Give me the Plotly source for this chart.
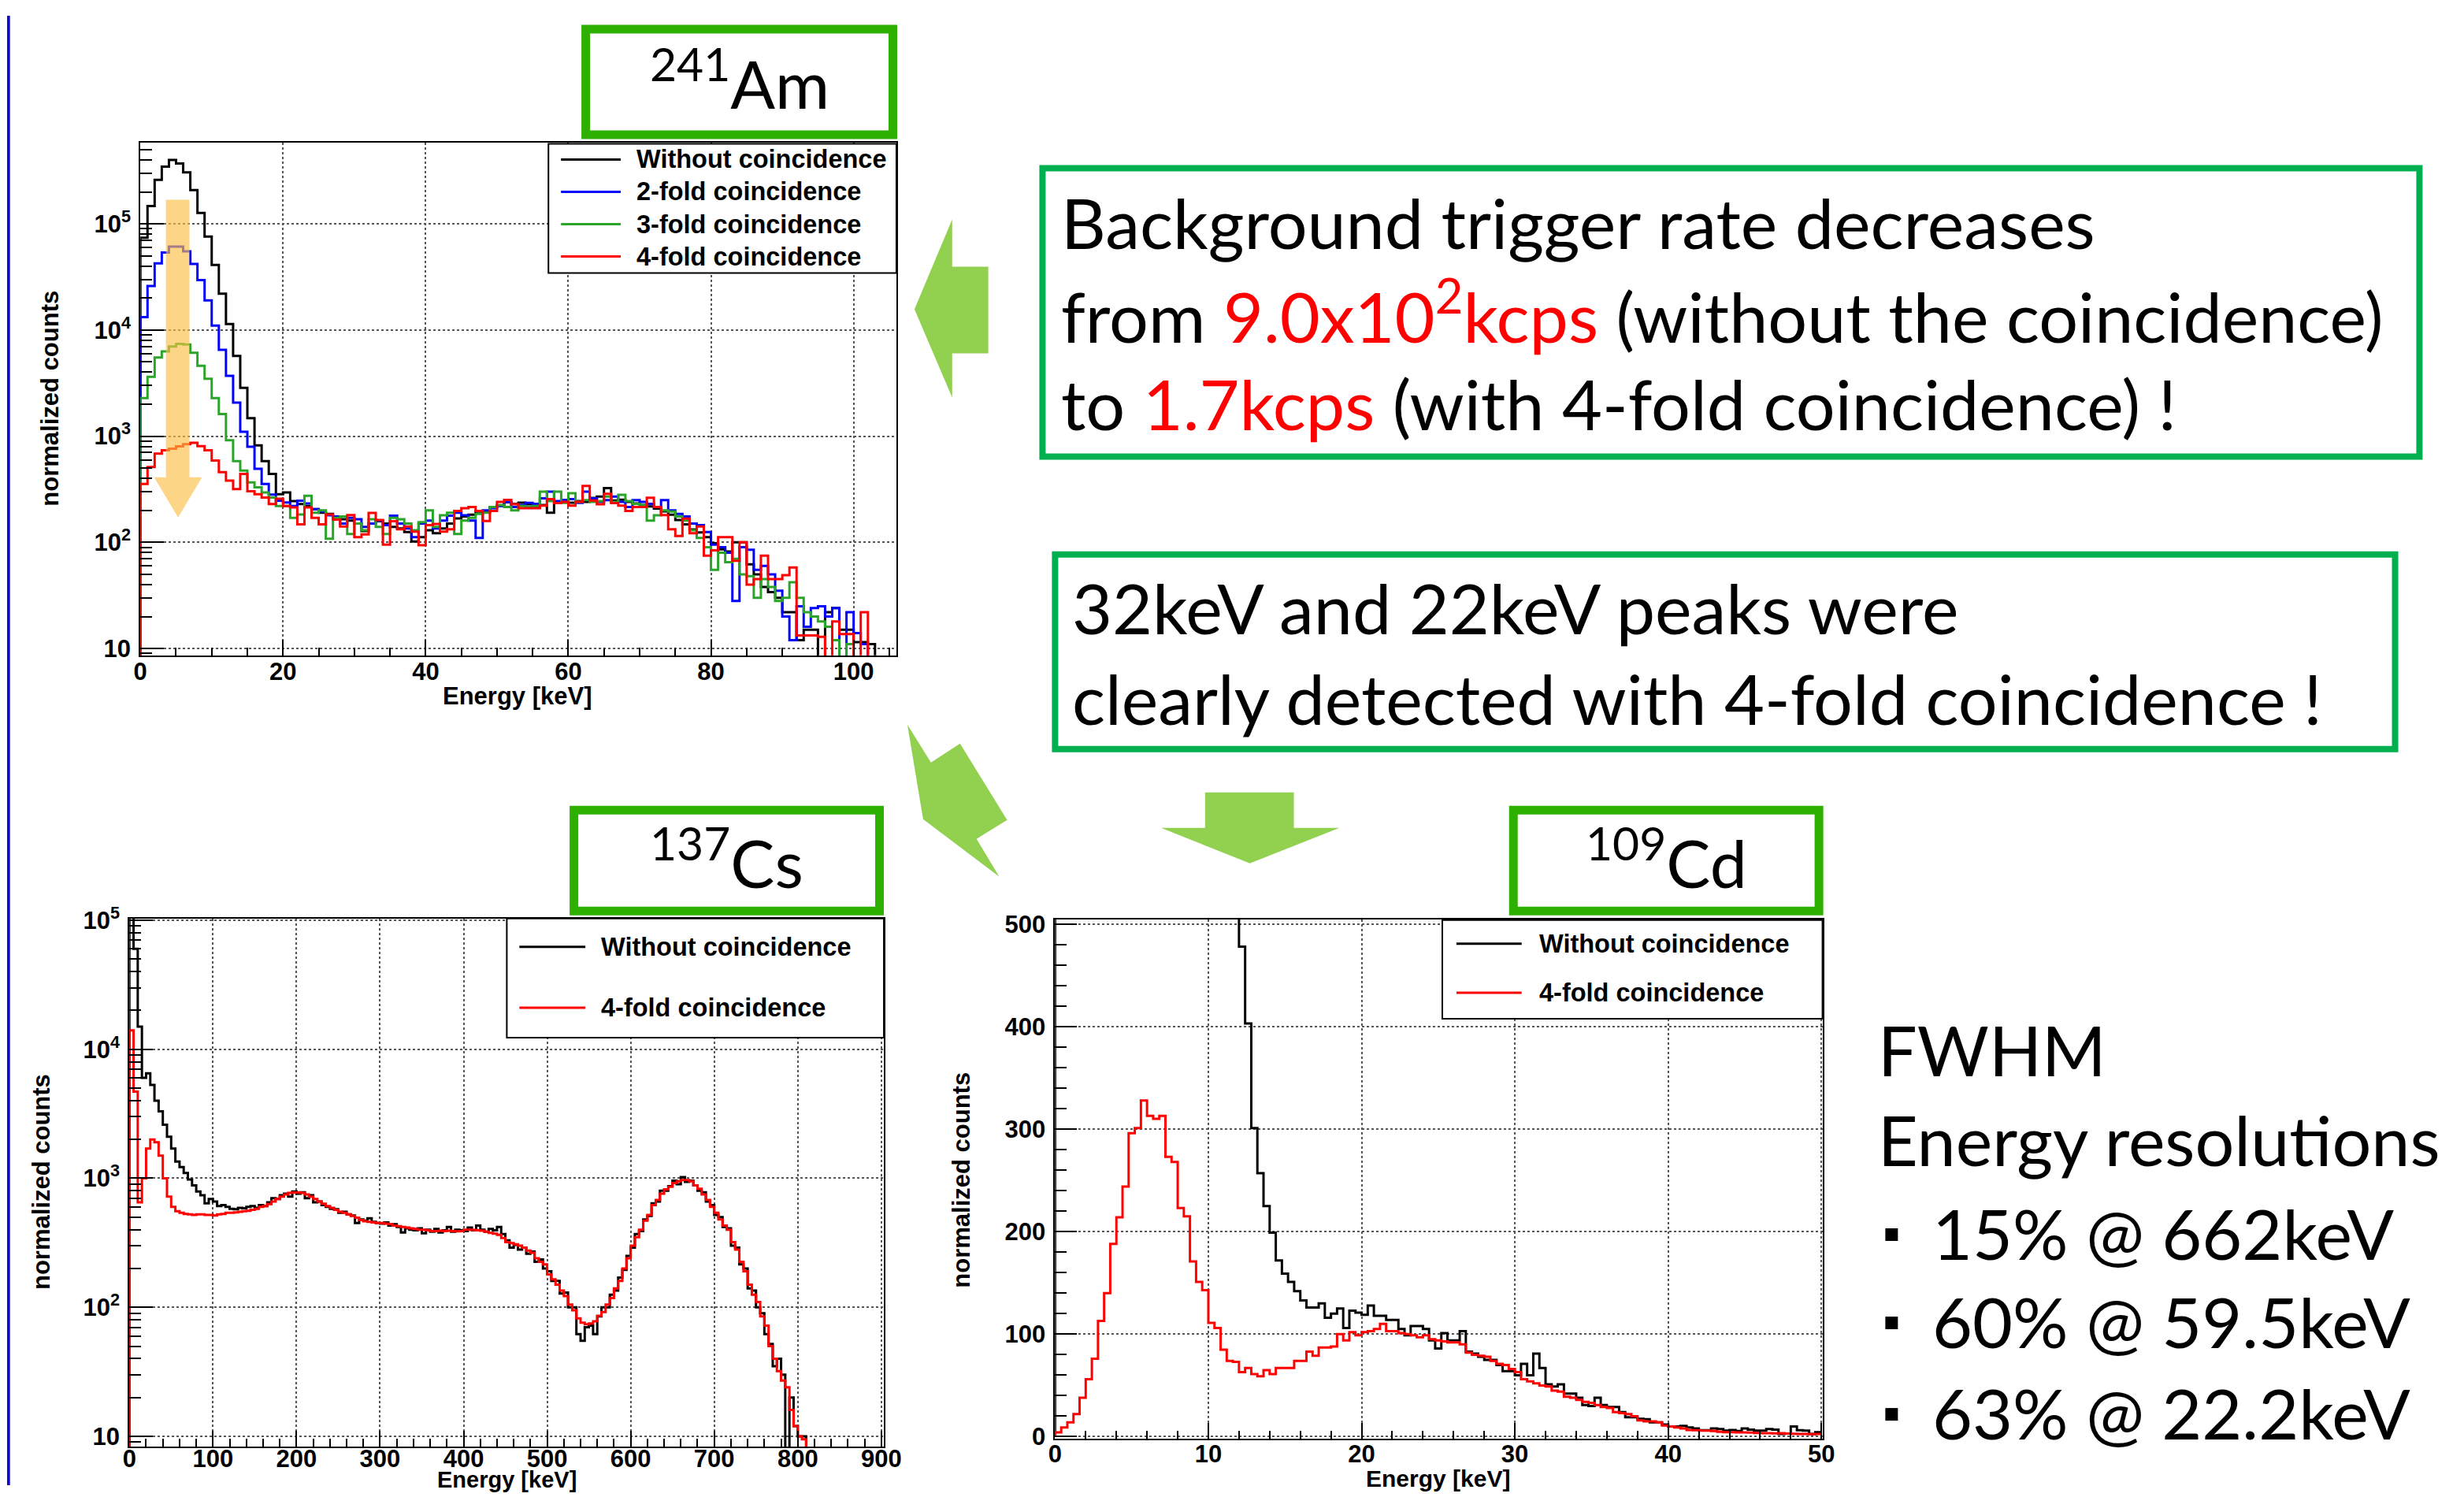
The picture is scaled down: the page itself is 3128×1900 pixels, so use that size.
import numpy as np
import plotly.graph_objects as go

W, H = 3128, 1900

# The photographed page comes out slightly offset and shrunk
# (measured: shown = 6.8 + 0.9926*x, 21.6 + 0.9812*y); layout positions below
# are given in reference-picture pixels and mapped back through that calibration.
CAL_X0, CAL_SX = 6.8, 0.9926
CAL_Y0, CAL_SY = 21.6, 0.9812


def px(x):
    return ((x - CAL_X0) / CAL_SX) / W


def py(y):
    return 1 - ((y - CAL_Y0) / CAL_SY) / H


# ------------------------------------------------------------------ data
# 241Am spectra, 1 keV bins starting at 0 keV
am_bin_width = 1.0
am_without = [74000, 147000, 260000, 346000, 400000, 370000, 306000, 208000, 127000, 76000,
              41000, 22000, 11400, 5700, 2850, 1480, 820, 582, 441, 284,
              295, 245, 229, 220, 205, 190, 185, 170, 165, 160,
              150, 128, 150, 158, 150, 140, 135, 125, 102, 112,
              130, 122, 135, 150, 168, 175, 182, 195, 192, 215,
              222, 238, 230, 236, 228, 212, 225, 190, 238, 250,
              236, 245, 240, 262, 270, 325, 248, 252, 240, 232,
              225, 218, 208, 196, 182, 162, 148, 132, 124, 112,
              98, 86, 82, 100, 100, 62, 50, 38, 34, 30,
              22, 22, 12, 15, 15, 0, 22, 24, 15, 15,
              11.5, 11.5, 11, 0, 0, 0]
am_2fold = [13200, 26000, 42500, 53700, 61000, 61000, 55000, 42000, 29500, 19000,
            11000, 6500, 3700, 2070, 1100, 795, 493, 355, 282, 247,
            237, 220, 247, 232, 205, 195, 180, 175, 150, 170,
            165, 140, 150, 160, 145, 178, 150, 135, 112, 150,
            160, 135, 160, 178, 190, 180, 160, 110, 200, 210,
            220, 240, 215, 225, 235, 230, 260, 300, 245, 250,
            255, 235, 300, 260, 240, 250, 270, 240, 215, 250,
            240, 230, 215, 250, 200, 185, 175, 150, 145, 125,
            95, 90, 80, 28, 90, 85, 55, 60, 50, 35,
            20, 12, 25, 16, 24, 25, 20, 24, 0, 22,
            14, 11, 0, 0, 0, 0]
am_3fold = [2290, 3630, 5500, 6300, 7000, 7400, 7300, 6100, 4600, 3470,
            2290, 1620, 917, 582, 474, 367, 330, 295, 264, 220,
            220, 170, 183, 274, 190, 200, 108, 170, 175, 120,
            150, 130, 165, 140, 120, 170, 165, 150, 130, 155,
            200, 140, 180, 190, 120, 160, 170, 185, 190, 215,
            225, 215, 200, 220, 215, 220, 300, 245, 300, 235,
            290, 240, 250, 240, 245, 270, 240, 280, 245, 230,
            225, 160, 180, 200, 195, 175, 160, 130, 110, 90,
            55, 80, 65, 70, 50, 48, 30, 45, 38, 28,
            30, 42, 30, 22, 20, 18, 16, 12, 0, 11,
            0, 0, 0, 0, 0, 0]
am_4fold = [355, 512, 684, 736, 762, 804, 840, 865, 805, 736,
            590, 458, 382, 318, 441, 303, 284, 264, 229, 257,
            220, 213, 148, 213, 170, 148, 183, 164, 141, 181,
            112, 119, 189, 162, 95, 158, 133, 141, 126, 94,
            145, 149, 126, 133, 198, 210, 215, 198, 159, 198,
            241, 251, 228, 210, 210, 210, 222, 255, 234, 241,
            222, 241, 340, 248, 228, 287, 234, 222, 198, 215,
            215, 263, 215, 181, 133, 115, 167, 122, 141, 75,
            84, 112, 112, 67, 100, 40, 45, 75, 45, 45,
            49, 58, 13.3, 13.3, 13.3, 12.9, 0, 18, 13.7, 13.7,
            0, 22, 0, 0, 0, 0]

# 137Cs spectra, 5 keV bins starting at 0 keV
cs_bin_width = 5.0
cs_without = [300000, 60000, 15000, 6000, 6500, 5300, 4000, 3300, 2600, 2100,
              1700, 1350, 1220, 1100, 980, 880, 790, 740, 640, 690,
              660, 610, 620, 600, 580, 575, 590, 585, 600, 610,
              590, 620, 610, 650, 700, 690, 740, 760, 720, 790,
              760, 780, 700, 740, 650, 660, 620, 600, 580, 575,
              540, 550, 525, 515, 450, 480, 470, 490, 460, 450,
              445, 455, 430, 440, 420, 380, 410, 400, 395, 410,
              375, 400, 385, 405, 380, 395, 420, 385, 400, 395,
              390, 415, 395, 430, 400, 385, 405, 395, 420, 370,
              330, 290, 305, 280, 290, 260, 270, 225, 235, 200,
              190, 160, 160, 128, 130, 100, 100, 62, 55, 70,
              72, 62, 85, 100, 100, 125, 135, 170, 195, 250,
              290, 370, 390, 480, 510, 640, 660, 800, 800, 870,
              960, 900, 1020, 940, 960, 880, 800, 780, 660, 620,
              520, 500, 420, 410, 300, 290, 215, 200, 140, 135,
              100, 90, 62, 52, 35, 40, 30, 0, 20, 12,
              10, 10, 0, 0, 0, 0, 0, 0, 0, 0,
              0, 0, 0, 0, 0, 0, 0, 0, 0, 0]
cs_4fold = [14000, 4700, 650, 1000, 1700, 2000, 1900, 1500, 1000, 720,
            600, 555, 540, 530, 525, 520, 525, 525, 520, 520,
            515, 525, 530, 540, 540, 545, 550, 555, 560, 570,
            580, 600, 610, 630, 660, 690, 720, 750, 770, 775,
            775, 770, 750, 720, 690, 660, 635, 610, 590, 570,
            550, 540, 525, 510, 495, 475, 465, 460, 455, 450,
            450, 445, 440, 430, 425, 420, 415, 410, 405, 400,
            400, 395, 390, 390, 392, 390, 392, 390, 388, 390,
            400, 400, 398, 395, 392, 385, 378, 372, 365, 345,
            320, 315, 308, 300, 290, 275, 265, 240, 225, 215,
            180, 165, 150, 135, 122, 105, 95, 82, 76, 74,
            75, 78, 86, 92, 105, 118, 140, 160, 200, 240,
            300, 350, 400, 470, 520, 620, 680, 760, 820, 860,
            920, 950, 970, 968, 950, 880, 830, 750, 680, 600,
            540, 480, 430, 400, 320, 280, 225, 190, 150, 125,
            110, 85, 72, 50, 40, 32, 27, 24, 16, 12,
            10, 9.5, 0, 0, 0, 0, 0, 0, 0, 0,
            0, 0, 0, 0, 0, 0, 0, 0, 0, 0]

# 109Cd spectra, 0.4 keV bins starting at 0 keV (first 30 black bins are off scale)
cd_bin_width = 0.4
cd_without = [560, 820, 1150, 1600, 2100, 2700, 3300, 3900, 4400, 4800,
              5000, 5100, 5000, 4800, 4500, 4100, 3700, 3300, 2800, 2400,
              2000, 1700, 1400, 1200, 1000, 880, 760, 680, 600, 540,
              478, 403, 301, 257, 225, 199, 172, 159, 151, 142,
              133, 126, 126, 130, 116, 120, 125, 106, 123, 121,
              119, 128, 118, 118, 114, 114, 105, 99, 108, 108,
              105, 94, 86, 101, 94, 94, 103, 83, 81, 78,
              75, 75, 70, 64, 64, 60, 71, 60, 81, 67,
              51, 49, 51, 42, 42, 38, 31, 30, 38, 31,
              29, 29, 24, 19, 19, 17.5, 17, 14, 14, 12,
              10, 10, 10.5, 9, 8, 6.3, 6.3, 8, 7.5, 6,
              6.5, 5.5, 8, 7, 6, 6, 7.5, 7, 2.6, 3,
              10, 6.3, 6, 2.6, 4.5]
cd_4fold = [4.3, 9, 14, 22, 38, 56, 76, 113, 140, 188,
            214, 244, 296, 301, 328, 313, 310, 313, 273, 268,
            223, 215, 171, 151, 143, 111, 106, 85, 74, 73,
            63, 67, 61, 59, 65, 61, 67, 67, 67, 74,
            74, 83, 79, 87, 87, 88, 100, 94, 102, 99,
            102, 103, 105, 110, 103, 103, 101, 100, 99, 97,
            99, 95, 94, 93, 92, 92, 90, 82, 80, 79,
            78, 74, 71, 70, 66, 63, 56, 54, 52, 50,
            49, 45, 44, 39, 38, 36, 34, 33, 31, 29,
            28, 24, 23, 22, 20, 16, 15, 15, 14, 11,
            10, 9, 8, 6.5, 6.3, 6, 6, 5.5, 4.8, 4.5,
            4.5, 4.3, 4.2, 4.0, 3.6, 3.4, 3.4, 3.2, 3.4, 3.0,
            2.8, 2.6, 2.6, 2.5, 2.6]

legend_names_am = ["Without coincidence", "2-fold coincidence",
                   "3-fold coincidence", "4-fold coincidence"]
legend_names_2 = ["Without coincidence", "4-fold coincidence"]

log_tick_vals = [10, 100, 1000, 10000, 100000]
log_tick_text = ["10", "10<sup>2</sup>", "10<sup>3</sup>", "10<sup>4</sup>", "10<sup>5</sup>"]

fwhm_lines = ["15% @ 662keV", "60% @ 59.5keV", "63% @ 22.2keV"]

# ------------------------------------------------------------------ style
ROOT_FONT = "Liberation Sans, Arial, sans-serif"
SLIDE_FONT = "Lato, Open Sans, sans-serif"
C_BLACK, C_BLUE, C_GREEN, C_RED = "#000000", "#0000ff", "#2aa52a", "#ff0000"
BOX_GREEN = "#2eb000"
TEXT_BOX_GREEN = "#00b050"
ARROW_GREEN = "#92d050"
SLIDE_SIZE = 88

fig = go.Figure()


def hist_xy(values, width, floor):
    v = np.array(values, dtype=float)
    v = np.where(v > 0, v, floor)
    edges = np.arange(len(v) + 1) * width
    xs = np.concatenate([[0.0], edges])
    ys = np.concatenate([[floor], v, [v[-1]]])
    return xs, ys


def add_hist(values, width, floor, color, name, xa, ya, lw=3):
    xs, ys = hist_xy(values, width, floor)
    fig.add_trace(go.Scatter(x=xs, y=ys, mode="lines", name=name,
                             line=dict(shape="hv", color=color, width=lw),
                             xaxis=xa, yaxis=ya, showlegend=False,
                             hoverinfo="skip"))


# Am
for vals, col, nm in [(am_without, C_BLACK, legend_names_am[0]),
                      (am_2fold, C_BLUE, legend_names_am[1]),
                      (am_3fold, C_GREEN, legend_names_am[2]),
                      (am_4fold, C_RED, legend_names_am[3])]:
    add_hist(vals, am_bin_width, 1.0, col, nm, "x", "y")
# Cs
add_hist(cs_without, cs_bin_width, 1.0, C_BLACK, legend_names_2[0], "x2", "y2")
add_hist(cs_4fold, cs_bin_width, 1.0, C_RED, legend_names_2[1], "x2", "y2")
# Cd
add_hist(cd_without, cd_bin_width, 0.0, C_BLACK, legend_names_2[0], "x3", "y3")
add_hist(cd_4fold, cd_bin_width, 0.0, C_RED, legend_names_2[1], "x3", "y3")

tickfont = dict(family=ROOT_FONT, size=31, color="black", weight="bold")


def base_axis(**kw):
    d = dict(showline=True, linecolor="black", linewidth=2, mirror=True,
             ticks="inside", tickcolor="black", tickwidth=2,
             showgrid=True, gridcolor="#555555", gridwidth=1.5, griddash="dot",
             zeroline=False, tickfont=tickfont, fixedrange=True,
             ticklabelstandoff=4)
    d.update(kw)
    return d


def minor(**kw):
    d = dict(ticks="inside", tickcolor="black", tickwidth=2)
    d.update(kw)
    return d


def xdom(x0, x1):
    return [px(x0), px(x1)]


def ydom(ytop, ybottom):
    return [py(ybottom), py(ytop)]


log_minor_vals = [m * 10 ** e for e in range(0, 6) for m in range(2, 10)]

fig.update_layout(
    width=W, height=H, margin=dict(l=0, r=0, t=0, b=0),
    paper_bgcolor="white", plot_bgcolor="white", showlegend=False,
    xaxis=base_axis(domain=xdom(176.5, 1139), range=[0, 106], anchor="y",
                    tickmode="linear", tick0=0, dtick=20, ticklen=20,
                    ticklabelstandoff=-8,
                    minor=minor(tickmode="linear", tick0=0, dtick=5, ticklen=10)),
    yaxis=base_axis(domain=ydom(183, 833), type="log", range=[0.936, 5.762],
                    anchor="x", tickmode="array", tickvals=log_tick_vals,
                    ticktext=log_tick_text, ticklen=30,
                    minor=minor(tickmode="array", tickvals=log_minor_vals, ticklen=15)),
    xaxis2=base_axis(domain=xdom(162.5, 1123), range=[0, 903], anchor="y2",
                     tickmode="linear", tick0=0, dtick=100, ticklen=20,
                     ticklabelstandoff=-13,
                     minor=minor(tickmode="linear", tick0=0, dtick=20, ticklen=10)),
    yaxis2=base_axis(domain=ydom(1167, 1837), type="log", range=[0.92, 5.013],
                     anchor="x2", tickmode="array", tickvals=log_tick_vals,
                     ticktext=log_tick_text, ticklen=30,
                     minor=minor(tickmode="array", tickvals=log_minor_vals, ticklen=15)),
    xaxis3=base_axis(domain=xdom(1341, 2318), range=[0, 50.07], anchor="y3",
                     tickmode="linear", tick0=0, dtick=10, ticklen=20,
                     ticklabelstandoff=-9,
                     minor=minor(tickmode="linear", tick0=0, dtick=2, ticklen=10)),
    yaxis3=base_axis(domain=ydom(1168, 1827), range=[-2.0, 504.6], anchor="x3",
                     tickmode="linear", tick0=0, dtick=100, ticklen=28,
                     minor=minor(tickmode="linear", tick0=0, dtick=20, ticklen=15)),
)

shapes = []
annotations = []


def rect(x0, y0, x1, y1, color, width, fill=None):
    shapes.append(dict(type="rect", xref="paper", yref="paper",
                       x0=px(x0), x1=px(x1), y0=py(y1), y1=py(y0),
                       line=dict(color=color, width=width),
                       fillcolor=fill if fill else "rgba(0,0,0,0)"))


def poly(points, fill, opacity=1.0):
    path = "M " + " L ".join(f"{px(x):.6f},{py(y):.6f}" for x, y in points) + " Z"
    shapes.append(dict(type="path", xref="paper", yref="paper", path=path,
                       fillcolor=fill, line=dict(width=0), opacity=opacity))


def seg(x0, y0, x1, y1, color, width):
    shapes.append(dict(type="line", xref="paper", yref="paper",
                       x0=px(x0), x1=px(x1), y0=py(y0), y1=py(y1),
                       line=dict(color=color, width=width)))


def text(x, y, s, size, family=SLIDE_FONT, xanchor="left", bold=False,
         color="black", angle=0):
    annotations.append(dict(xref="paper", yref="paper", x=px(x), y=py(y),
                            text=s, showarrow=False, xanchor=xanchor,
                            yanchor="middle", textangle=angle,
                            font=dict(family=family, size=size, color=color,
                                      weight="bold" if bold else "normal")))


# slide left border (as far left as the page allows)
shapes.append(dict(type="rect", xref="paper", yref="paper", x0=0, x1=px(10.5),
                   y0=0, y1=1, fillcolor="#0a0ad0", line=dict(width=0)))

# isotope title boxes
for (x0, y0, x1, y1), label in [((738, 33, 1140, 178), "<sup>241</sup>Am"),
                                ((723, 1024, 1123, 1163), "<sup>137</sup>Cs"),
                                ((1919, 1024, 2319, 1163), "<sup>109</sup>Cd")]:
    rect(x0 + 5.5, y0 + 5.5, x1 - 5.5, y1 - 5.5, BOX_GREEN, 11)
    text((x0 + x1) / 2, (y0 + y1) / 2 - 3, label, 84, xanchor="center")

# comment boxes
rect(1325, 215, 3078, 581, TEXT_BOX_GREEN, 8)
rect(1341, 705, 3047, 952, TEXT_BOX_GREEN, 8)
RED = "<span style='color:#ff0000'>"
text(1347, 283, "Background trigger rate decreases", SLIDE_SIZE)
text(1347, 397, "from " + RED + "9.0x10<sup>2</sup>kcps</span> (without the coincidence)", SLIDE_SIZE)
text(1347, 513, "to " + RED + "1.7kcps</span> (with 4-fold coincidence) !", SLIDE_SIZE)
text(1361, 772, "32keV and 22keV peaks were", SLIDE_SIZE)
text(1361, 887, "clearly detected with 4-fold coincidence !", SLIDE_SIZE)

# FWHM block
text(2387, 1333, "FWHM", SLIDE_SIZE)
text(2387, 1447, "Energy resolutions", SLIDE_SIZE)
for s, yb in zip(fwhm_lines, [1597, 1709, 1825]):
    shapes.append(dict(type="rect", xref="paper", yref="paper",
                       x0=px(2398), x1=px(2414), y0=py(yb - 21), y1=py(yb - 37),
                       fillcolor="black", line=dict(width=0)))
    text(2456, yb - 31, s, SLIDE_SIZE)

# green arrows
poly([(1162, 394), (1210, 280), (1210, 340), (1256, 340), (1256, 450),
      (1210, 450), (1210, 506)], ARROW_GREEN)
poly([(1153, 921), (1183, 969), (1220, 945), (1280, 1042), (1241, 1066),
      (1270, 1114), (1173, 1041)], ARROW_GREEN)
poly([(1532, 1007), (1645, 1007), (1645, 1052), (1703, 1052), (1589, 1097),
      (1476, 1052), (1532, 1052)], ARROW_GREEN)

# translucent orange arrow on the Am spectrum
poly([(209, 255), (239, 255), (239, 607), (255, 607), (224.5, 658),
      (194, 607), (209, 607)], "rgb(250,190,70)", opacity=0.65)

# legends (ROOT TLegend style)
LEG_SIZE = 32.5


def legend_box(x0, y0, x1, y1, rows, lx0, lx1, tx):
    rect(x0, y0, x1, y1, "black", 2, fill="white")
    for (name, col), yy in rows:
        seg(lx0, yy, lx1, yy, col, 3)
        text(tx, yy, name, LEG_SIZE, family=ROOT_FONT, bold=True)


legend_box(696, 184, 1139, 348,
           list(zip(zip(legend_names_am, [C_BLACK, C_BLUE, C_GREEN, C_RED]),
                    [204, 245, 286, 327])), 712, 788, 806)
legend_box(643, 1167, 1123, 1318,
           list(zip(zip(legend_names_2, [C_BLACK, C_RED]), [1203, 1280])),
           659, 743, 761)
legend_box(1834, 1169, 2318, 1294,
           list(zip(zip(legend_names_2, [C_BLACK, C_RED]), [1199, 1261])),
           1852, 1935, 1955)

# axis titles (bottom ones sit at the lower edge of the page, as in the slide)
for x, y, s, ang, sz in [(62, 507, "normalized counts", -90, 31),
                         (657, 885, "Energy [keV]", 0, 31),
                         (51, 1501, "normalized counts", -90, 31),
                         (643, 1879, "Energy [keV]", 0, 29),
                         (1222, 1499, "normalized counts", -90, 31),
                         (1828, 1877, "Energy [keV]", 0, 30)]:
    text(x, y, s, sz, family=ROOT_FONT, xanchor="center", bold=True, angle=ang)

fig.update_layout(shapes=shapes, annotations=annotations)

PIN_PAGE = (
    "var gd=document.getElementById('{plot_id}');"
    "gd.style.position='fixed';gd.style.left='0px';gd.style.top='0px';"
    "document.documentElement.style.margin='0';"
    "document.body.style.margin='0';document.body.style.padding='0';"
    "document.documentElement.style.overflow='hidden';"
    "document.body.style.overflow='hidden';"
)
fig.write_html("out.html", config={"displayModeBar": False}, post_script=PIN_PAGE)
